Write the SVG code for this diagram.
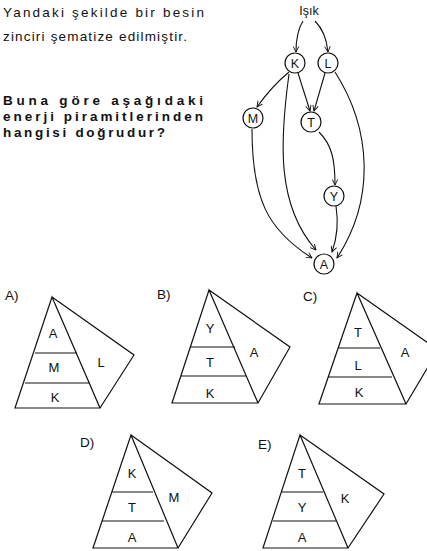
<svg xmlns="http://www.w3.org/2000/svg" width="427" height="551" viewBox="0 0 427 551">
<defs>
<style>
.t{font-family:"Liberation Sans",Arial,sans-serif;font-size:13.5px;fill:#111}
.b{font-family:"Liberation Sans",Arial,sans-serif;font-size:13.5px;font-weight:bold;fill:#111}
.n{font-family:"Liberation Sans",Arial,sans-serif;font-size:12.5px;fill:#111;text-anchor:middle}
.l{font-family:"Liberation Sans",Arial,sans-serif;font-size:13px;fill:#111;text-anchor:middle}
.c{fill:#fff;stroke:#111;stroke-width:1.2}
.e{fill:none;stroke:#111;stroke-width:1.1}
.p{fill:none;stroke:#111;stroke-width:1.2;stroke-linejoin:miter}
</style>
<marker id="ar" viewBox="0 0 10 10" refX="9" refY="5" markerWidth="7" markerHeight="7" orient="auto" markerUnits="userSpaceOnUse">
<path d="M1,1 L9,5 L1,9" fill="none" stroke="#111" stroke-width="1.3"/>
</marker>
</defs>
<rect width="427" height="551" fill="#fff"/>
<g id="question">
<text class="t" x="3" y="17" textLength="201" lengthAdjust="spacing">Yandaki şekilde bir besin</text>
<text class="t" x="3" y="41" textLength="184" lengthAdjust="spacing">zinciri şematize edilmiştir.</text>
<text class="b" x="3" y="105" textLength="200" lengthAdjust="spacing">Buna göre aşağıdaki</text>
<text class="b" x="3" y="121" textLength="200" lengthAdjust="spacing">enerji piramitlerinden</text>
<text class="b" x="3" y="137" textLength="162" lengthAdjust="spacing">hangisi doğrudur?</text>
</g>
<g id="connectors">
<path class="e" d="M303,21 Q296,32 296,52" marker-end="url(#ar)"/>
<path class="e" d="M315,21 Q326,32 328,52" marker-end="url(#ar)"/>
<path class="e" d="M289,72 Q272,86 257,107" marker-end="url(#ar)"/>
<path class="e" d="M298,73 L310,111" marker-end="url(#ar)"/>
<path class="e" d="M325,73 L314,111" marker-end="url(#ar)"/>
<path class="e" d="M289,74 C280,140 276,205 316,250" marker-end="url(#ar)"/>
<path class="e" d="M252,129 C252,200 268,230 312,258" marker-end="url(#ar)"/>
<path class="e" d="M335,72 C372,130 375,200 337,258" marker-end="url(#ar)"/>
<path class="e" d="M319,132 C332,145 335,160 335,185" marker-end="url(#ar)"/>
<path class="e" d="M336,206 C339,225 337,238 332,252" marker-end="url(#ar)"/>
</g>
<g id="isik"><text class="n" x="309" y="15">Işık</text></g>
<g id="node-K"><circle class="c" cx="295" cy="63" r="10"/><text class="n" x="295" y="67.5">K</text></g>
<g id="node-L"><circle class="c" cx="328" cy="63" r="10"/><text class="n" x="328" y="67.5">L</text></g>
<g id="node-M"><circle class="c" cx="253" cy="118" r="10"/><text class="n" x="253" y="122.5">M</text></g>
<g id="node-T"><circle class="c" cx="311" cy="122" r="10"/><text class="n" x="311" y="126.5">T</text></g>
<g id="node-Y"><circle class="c" cx="334" cy="196" r="10"/><text class="n" x="334" y="200.5">Y</text></g>
<g id="node-A"><circle class="c" cx="324" cy="264" r="10"/><text class="n" x="324" y="268.5">A</text></g>

<g id="option-A">
<text class="t" x="5" y="300">A)</text>
<path class="p" d="M52,297 L15,408 L100,408 Z M52,297 L134,355 L100,408 M35,353 L77,353 M25,383 L90,383"/>
<text class="l" x="53" y="338">A</text>
<text class="l" x="54" y="372">M</text>
<text class="l" x="55" y="402">K</text>
<text class="l" x="101" y="367">L</text>
</g>
<g id="option-B">
<text class="t" x="157" y="299">B)</text>
<path class="p" d="M209,290 L172,403 L258,403 Z M209,290 L290,347 L258,403 M190,347 L235,347 M181,376 L246,376"/>
<text class="l" x="210" y="333">Y</text>
<text class="l" x="210" y="367">T</text>
<text class="l" x="210" y="398">K</text>
<text class="l" x="254" y="357">A</text>
</g>
<g id="option-C">
<text class="t" x="303" y="301">C)</text>
<path class="p" d="M357,293 L319,404 L406,404 Z M357,293 L438,350 L406,404 M338,348 L380,348 M328,377 L392,377"/>
<text class="l" x="358" y="337">T</text>
<text class="l" x="358" y="370">L</text>
<text class="l" x="359" y="397">K</text>
<text class="l" x="405" y="357">A</text>
</g>
<g id="option-D">
<text class="t" x="80" y="447">D)</text>
<path class="p" d="M131,435 L93,548 L178,548 Z M131,435 L212,493 L178,548 M112,492 L153,492 M102,521 L164,521"/>
<text class="l" x="132" y="478">K</text>
<text class="l" x="132" y="512">T</text>
<text class="l" x="132" y="542">A</text>
<text class="l" x="174" y="502">M</text>
</g>
<g id="option-E">
<text class="t" x="258" y="449">E)</text>
<path class="p" d="M300,435 L263,548 L348,548 Z M300,435 L384,494 L348,548 M282,492 L323,492 M273,521 L337,521"/>
<text class="l" x="302" y="478">T</text>
<text class="l" x="302" y="512">Y</text>
<text class="l" x="302" y="542">A</text>
<text class="l" x="345" y="503">K</text>
</g>
</svg>
